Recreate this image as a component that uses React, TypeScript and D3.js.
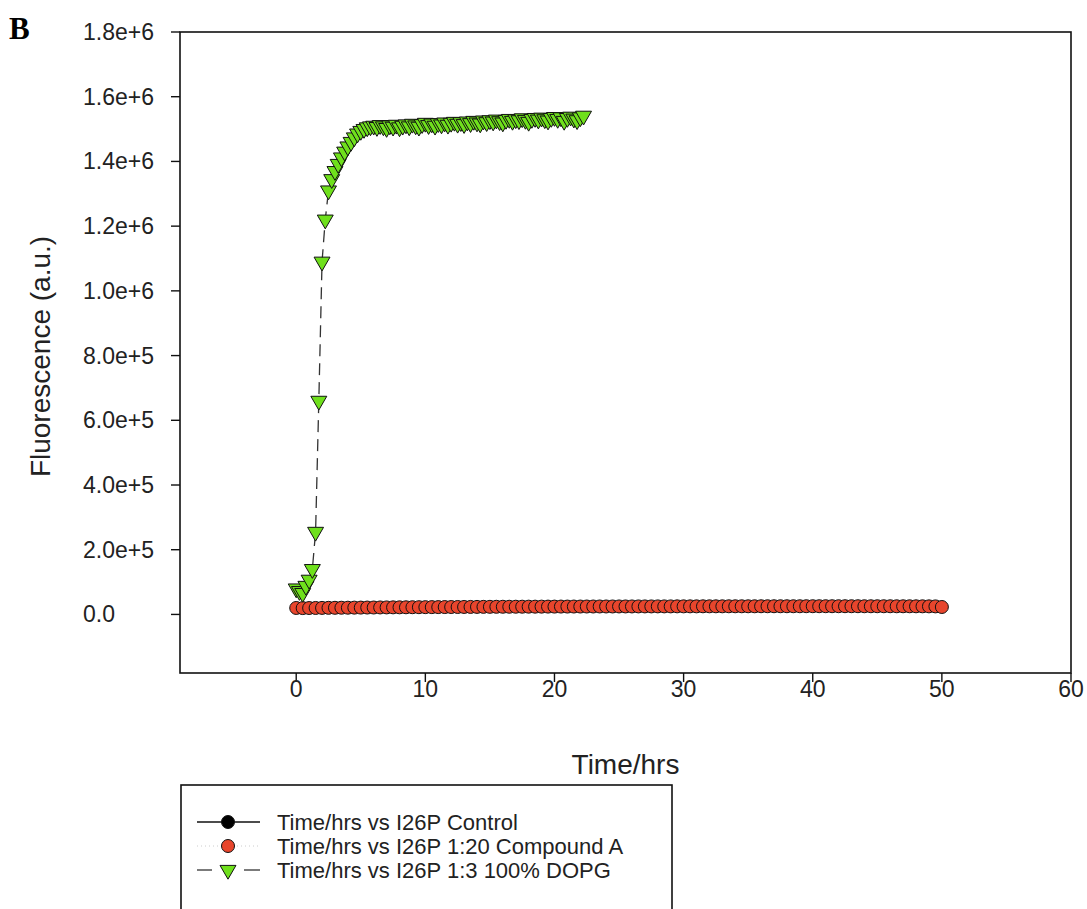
import * as d3 from "d3";

// sampled every 30 min
const redTime = [
  0, 0.5, 1, 1.5, 2, 2.5, 3, 3.5, 4, 4.5,
  5, 5.5, 6, 6.5, 7, 7.5, 8, 8.5, 9, 9.5,
  10, 10.5, 11, 11.5, 12, 12.5, 13, 13.5, 14, 14.5,
  15, 15.5, 16, 16.5, 17, 17.5, 18, 18.5, 19, 19.5,
  20, 20.5, 21, 21.5, 22, 22.5, 23, 23.5, 24, 24.5,
  25, 25.5, 26, 26.5, 27, 27.5, 28, 28.5, 29, 29.5,
  30, 30.5, 31, 31.5, 32, 32.5, 33, 33.5, 34, 34.5,
  35, 35.5, 36, 36.5, 37, 37.5, 38, 38.5, 39, 39.5,
  40, 40.5, 41, 41.5, 42, 42.5, 43, 43.5, 44, 44.5,
  45, 45.5, 46, 46.5, 47, 47.5, 48, 48.5, 49, 49.5,
  50,
];
const redValues = [
  20000, 19600, 19800, 20000, 20200, 20400, 20500, 20700, 20800, 21000,
  21100, 21300, 21400, 21600, 21700, 21900, 22000, 22100, 22300, 22400,
  22500, 22600, 22700, 22800, 22900, 23000, 23100, 23200, 23300, 23400,
  23500, 23600, 23700, 23700, 23800, 23900, 24000, 24000, 24100, 24200,
  24200, 24300, 24300, 24400, 24400, 24500, 24500, 24600, 24600, 24600,
  24700, 24700, 24700, 24800, 24800, 24800, 24900, 24900, 24900, 25000,
  25000, 25000, 25000, 25100, 25100, 25100, 25100, 25200, 25200, 25200,
  25200, 25200, 25300, 25300, 25300, 25300, 25300, 25300, 25300, 25400,
  25400, 25400, 25400, 25400, 25400, 25400, 25400, 25400, 25300, 25300,
  25300, 25300, 25300, 25200, 25200, 25200, 25100, 25100, 25000, 24900,
  23000,
];

// sampled every 15 min
const greenTime = [
  0, 0.25, 0.5, 0.75, 1, 1.25, 1.5, 1.75, 2, 2.25,
  2.5, 2.75, 3, 3.25, 3.5, 3.75, 4, 4.25, 4.5, 4.75,
  5, 5.25, 5.5, 5.75, 6, 6.25, 6.5, 6.75, 7, 7.25,
  7.5, 7.75, 8, 8.25, 8.5, 8.75, 9, 9.25, 9.5, 9.75,
  10, 10.25, 10.5, 10.75, 11, 11.25, 11.5, 11.75, 12, 12.25,
  12.5, 12.75, 13, 13.25, 13.5, 13.75, 14, 14.25, 14.5, 14.75,
  15, 15.25, 15.5, 15.75, 16, 16.25, 16.5, 16.75, 17, 17.25,
  17.5, 17.75, 18, 18.25, 18.5, 18.75, 19, 19.25, 19.5, 19.75,
  20, 20.25, 20.5, 20.75, 21, 21.25, 21.5, 21.75, 22, 22.25,
];
const greenValues = [
  80000, 72000, 66000, 88000, 107000, 140000, 255000, 660000, 1090000, 1220000,
  1310000, 1345000, 1370000, 1392000, 1412000, 1430000, 1446000, 1460000, 1474000, 1486000,
  1494000, 1500000, 1505000, 1508000, 1510000, 1506000, 1512000, 1508000, 1503000, 1511000,
  1507000, 1513000, 1505000, 1510000, 1514000, 1508000, 1516000, 1511000, 1507000, 1515000,
  1519000, 1512000, 1517000, 1510000, 1518000, 1514000, 1520000, 1513000, 1519000, 1522000,
  1516000, 1521000, 1515000, 1523000, 1518000, 1525000, 1520000, 1517000, 1526000, 1521000,
  1527000, 1523000, 1529000, 1524000, 1520000, 1528000, 1531000, 1525000, 1530000, 1527000,
  1533000, 1528000, 1522000, 1531000, 1534000, 1529000, 1535000, 1530000, 1526000, 1534000,
  1537000, 1531000, 1536000, 1525000, 1534000, 1538000, 1532000, 1527000, 1536000, 1541000,
];

const xTicks = [0, 10, 20, 30, 40, 50, 60];
const yTicks = [0, 200000, 400000, 600000, 800000, 1000000, 1200000, 1400000, 1600000, 1800000];
const legendLabels = [
  "Time/hrs vs I26P Control",
  "Time/hrs vs I26P 1:20 Compound A",
  "Time/hrs vs I26P 1:3 100% DOPG",
];

const FONT = "'Liberation Sans', Arial, sans-serif";
const RED = "#e8452c";
const GREEN = "#6fe01c";

export default function App() {
  const left = 180, right = 1071, top = 32, bottom = 673;
  const x = d3.scaleLinear().domain([-9, 60]).range([left, right]);
  const y = d3.scaleLinear().domain([-181000, 1800000]).range([bottom, top]);

  const red = redTime.map((t, i) => [t, redValues[i]] as [number, number]);
  const green = greenTime.map((t, i) => [t, greenValues[i]] as [number, number]);

  const line = d3.line<[number, number]>().x((d) => x(d[0])).y((d) => y(d[1]));
  const tri = d3.symbol().type(d3.symbolTriangle).size(110)() as string;
  const fmtY = (v: number) => (v === 0 ? "0.0" : d3.format(".1e")(v));

  const legY = [822, 846, 870];

  return (
    <svg
      width={1087}
      height={909}
      style={{ position: "absolute", left: 0, top: 0, background: "#fff" }}
      fontFamily={FONT}
    >
      <rect width={1087} height={909} fill="#fff" />
      <text x={9} y={39} fontFamily="'Liberation Serif', 'Times New Roman', serif" fontWeight="bold" fontSize={31}>
        B
      </text>

      {/* frame */}
      <rect x={left} y={top} width={right - left} height={bottom - top} fill="none" stroke="#111" strokeWidth={1.6} />

      {/* y axis */}
      {yTicks.map((v) => (
        <g key={"y" + v}>
          <line x1={left - 9} x2={left} y1={y(v)} y2={y(v)} stroke="#111" strokeWidth={1.4} />
          <text x={83} y={y(v) + 8} fontSize={23} fill="#222">
            {fmtY(v)}
          </text>
        </g>
      ))}
      <text
        transform={`translate(50, ${(top + bottom) / 2 + 4}) rotate(-90)`}
        textAnchor="middle"
        fontSize={28}
        fill="#222"
      >
        Fluorescence (a.u.)
      </text>

      {/* x axis */}
      {xTicks.map((v) => (
        <g key={"x" + v}>
          <line x1={x(v)} x2={x(v)} y1={bottom} y2={bottom + 9} stroke="#111" strokeWidth={1.4} />
          <text x={x(v)} y={697} textAnchor="middle" fontSize={23} fill="#222">
            {v}
          </text>
        </g>
      ))}
      <text x={(left + right) / 2} y={774} textAnchor="middle" fontSize={28} fill="#222">
        Time/hrs
      </text>

      {/* red series */}
      <path d={line(red) || ""} fill="none" stroke="#bbb" strokeDasharray="1,3" />
      {red.map((d, i) => (
        <circle key={"r" + i} cx={x(d[0])} cy={y(d[1])} r={6.5} fill={RED} stroke="#111" strokeWidth={1} />
      ))}

      {/* green series */}
      <path d={line(green) || ""} fill="none" stroke="#333" strokeWidth={1.3} strokeDasharray="12,7" />
      {green.map((d, i) => (
        <path
          key={"g" + i}
          d={tri}
          transform={`translate(${x(d[0])},${y(d[1])}) rotate(180)`}
          fill={GREEN}
          stroke="#111"
          strokeWidth={1}
        />
      ))}

      {/* legend */}
      <rect x={181} y={785} width={491} height={160} fill="#fff" stroke="#111" strokeWidth={1.6} />
      <line x1={197} x2={260} y1={legY[0]} y2={legY[0]} stroke="#111" strokeWidth={1.4} />
      <circle cx={228} cy={legY[0]} r={6.5} fill="#000" stroke="#111" />
      <line x1={197} x2={260} y1={legY[1]} y2={legY[1]} stroke="#ccc" strokeDasharray="1,3" />
      <circle cx={228} cy={legY[1]} r={6.5} fill={RED} stroke="#111" />
      <line x1={197} x2={212} y1={legY[2]} y2={legY[2]} stroke="#333" strokeWidth={1.3} />
      <line x1={244} x2={260} y1={legY[2]} y2={legY[2]} stroke="#333" strokeWidth={1.3} />
      <path d={tri} transform={`translate(228,${legY[2]}) rotate(180)`} fill={GREEN} stroke="#111" />
      {legendLabels.map((s, i) => (
        <text key={s} x={277} y={legY[i] + 8} fontSize={22} fill="#222">
          {s}
        </text>
      ))}
    </svg>
  );
}
